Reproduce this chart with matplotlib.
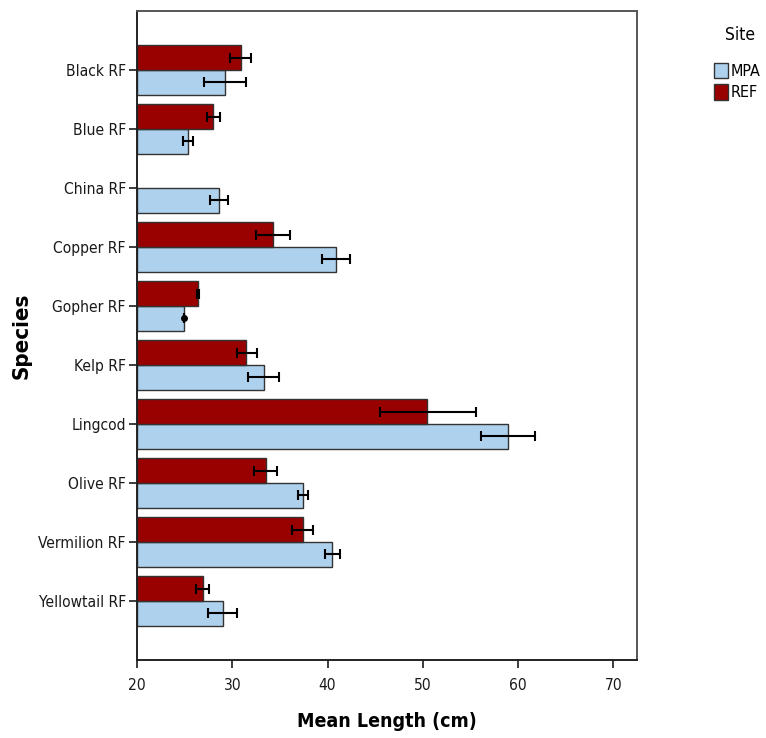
import numpy as np
import matplotlib
matplotlib.use('Agg')
import matplotlib.pyplot as plt
from matplotlib.patches import Patch

plt.rcParams['font.family'] = ['DejaVu Sans']
plt.rcParams['font.stretch'] = 'condensed'

# Data
species = ['Black RF', 'Blue RF', 'China RF', 'Copper RF', 'Gopher RF',
           'Kelp RF', 'Lingcod', 'Olive RF', 'Vermilion RF', 'Yellowtail RF']
mpa_mean = [29.2, 25.3, 28.65, 40.9, 24.9, 33.3, 59.0, 37.4, 40.5, 29.0]
mpa_low = [27.0, 24.8, 27.7, 39.4, 24.9, 31.6, 56.1, 36.9, 39.75, 27.5]
mpa_high = [31.4, 25.9, 29.6, 42.4, 24.9, 34.9, 61.8, 37.9, 41.3, 30.5]
ref_mean = [30.9, 28.0, np.nan, 34.25, 26.4, 31.45, 50.5, 33.5, 37.4, 26.9]
ref_low = [29.8, 27.35, np.nan, 32.5, 26.3, 30.5, 45.5, 32.3, 36.3, 26.2]
ref_high = [32.0, 28.7, np.nan, 36.1, 26.5, 32.6, 55.6, 34.7, 38.5, 27.6]

mpa_color = '#AED1EE'
ref_color = '#990000'
edge = '#333333'

fig = plt.figure(figsize=(7.66, 7.38), dpi=100)
ax = fig.add_axes([0.1789, 0.1057, 0.6527, 0.8793])

y = np.arange(len(species))
h = 0.42
base = 20

mpa_mean = np.array(mpa_mean)
ref_mean = np.array(ref_mean)

ax.barh(y + h / 2, mpa_mean - base, left=base, height=h, color=mpa_color,
        edgecolor=edge, linewidth=1.0)
ax.barh(y - h / 2, ref_mean - base, left=base, height=h, color=ref_color,
        edgecolor=edge, linewidth=1.0)

mpa_err = [mpa_mean - np.array(mpa_low), np.array(mpa_high) - mpa_mean]
ref_err = [ref_mean - np.array(ref_low), np.array(ref_high) - ref_mean]
ax.errorbar(mpa_mean, y + h / 2, xerr=mpa_err, fmt='none', ecolor='black',
            elinewidth=1.5, capsize=3.5, capthick=1.5)
ax.errorbar(ref_mean, y - h / 2, xerr=ref_err, fmt='none', ecolor='black',
            elinewidth=1.5, capsize=3.5, capthick=1.5)
# Gopher MPA shows a dot (zero-width interval)
ax.plot([mpa_mean[4]], [y[4] + h / 2], 'o', color='black', markersize=4)

ax.set_xlim(20, 72.5)
ax.set_ylim(len(species), -1)
ax.set_xticks([20, 30, 40, 50, 60, 70])
ax.set_yticks(y)
ax.set_yticklabels(species)
ax.tick_params(axis='both', direction='out', length=6, width=1.2,
               labelsize=11.2, colors='#1a1a1a', pad=2)
ax.tick_params(axis='x', pad=7)

for side in ['left', 'bottom']:
    ax.spines[side].set_color('#222222')
    ax.spines[side].set_linewidth(1.4)
for side in ['top', 'right']:
    ax.spines[side].set_color('#555555')
    ax.spines[side].set_linewidth(1.4)

ax.set_xlabel('Mean Length (cm)', fontsize=14, fontweight='bold', va='center')
ax.xaxis.set_label_coords(0.5, -0.095)
ax.set_ylabel('Species', fontsize=16, fontweight='bold', va='center')
ax.yaxis.set_label_coords(-0.23, 0.5)

fig.text(0.966, 0.953, 'Site', fontsize=12.5, ha='center', va='center')
handles = [Patch(facecolor=mpa_color, edgecolor=edge, label='MPA'),
           Patch(facecolor=ref_color, edgecolor=edge, label='REF')]
leg = fig.legend(handles=handles, loc='upper left',
                 bbox_to_anchor=(0.922, 0.926), frameon=False, fontsize=11.5,
                 handlelength=0.85, handleheight=1.1, borderpad=0,
                 handletextpad=0.2, labelspacing=0.35)

fig.savefig('out.png', dpi=100)
